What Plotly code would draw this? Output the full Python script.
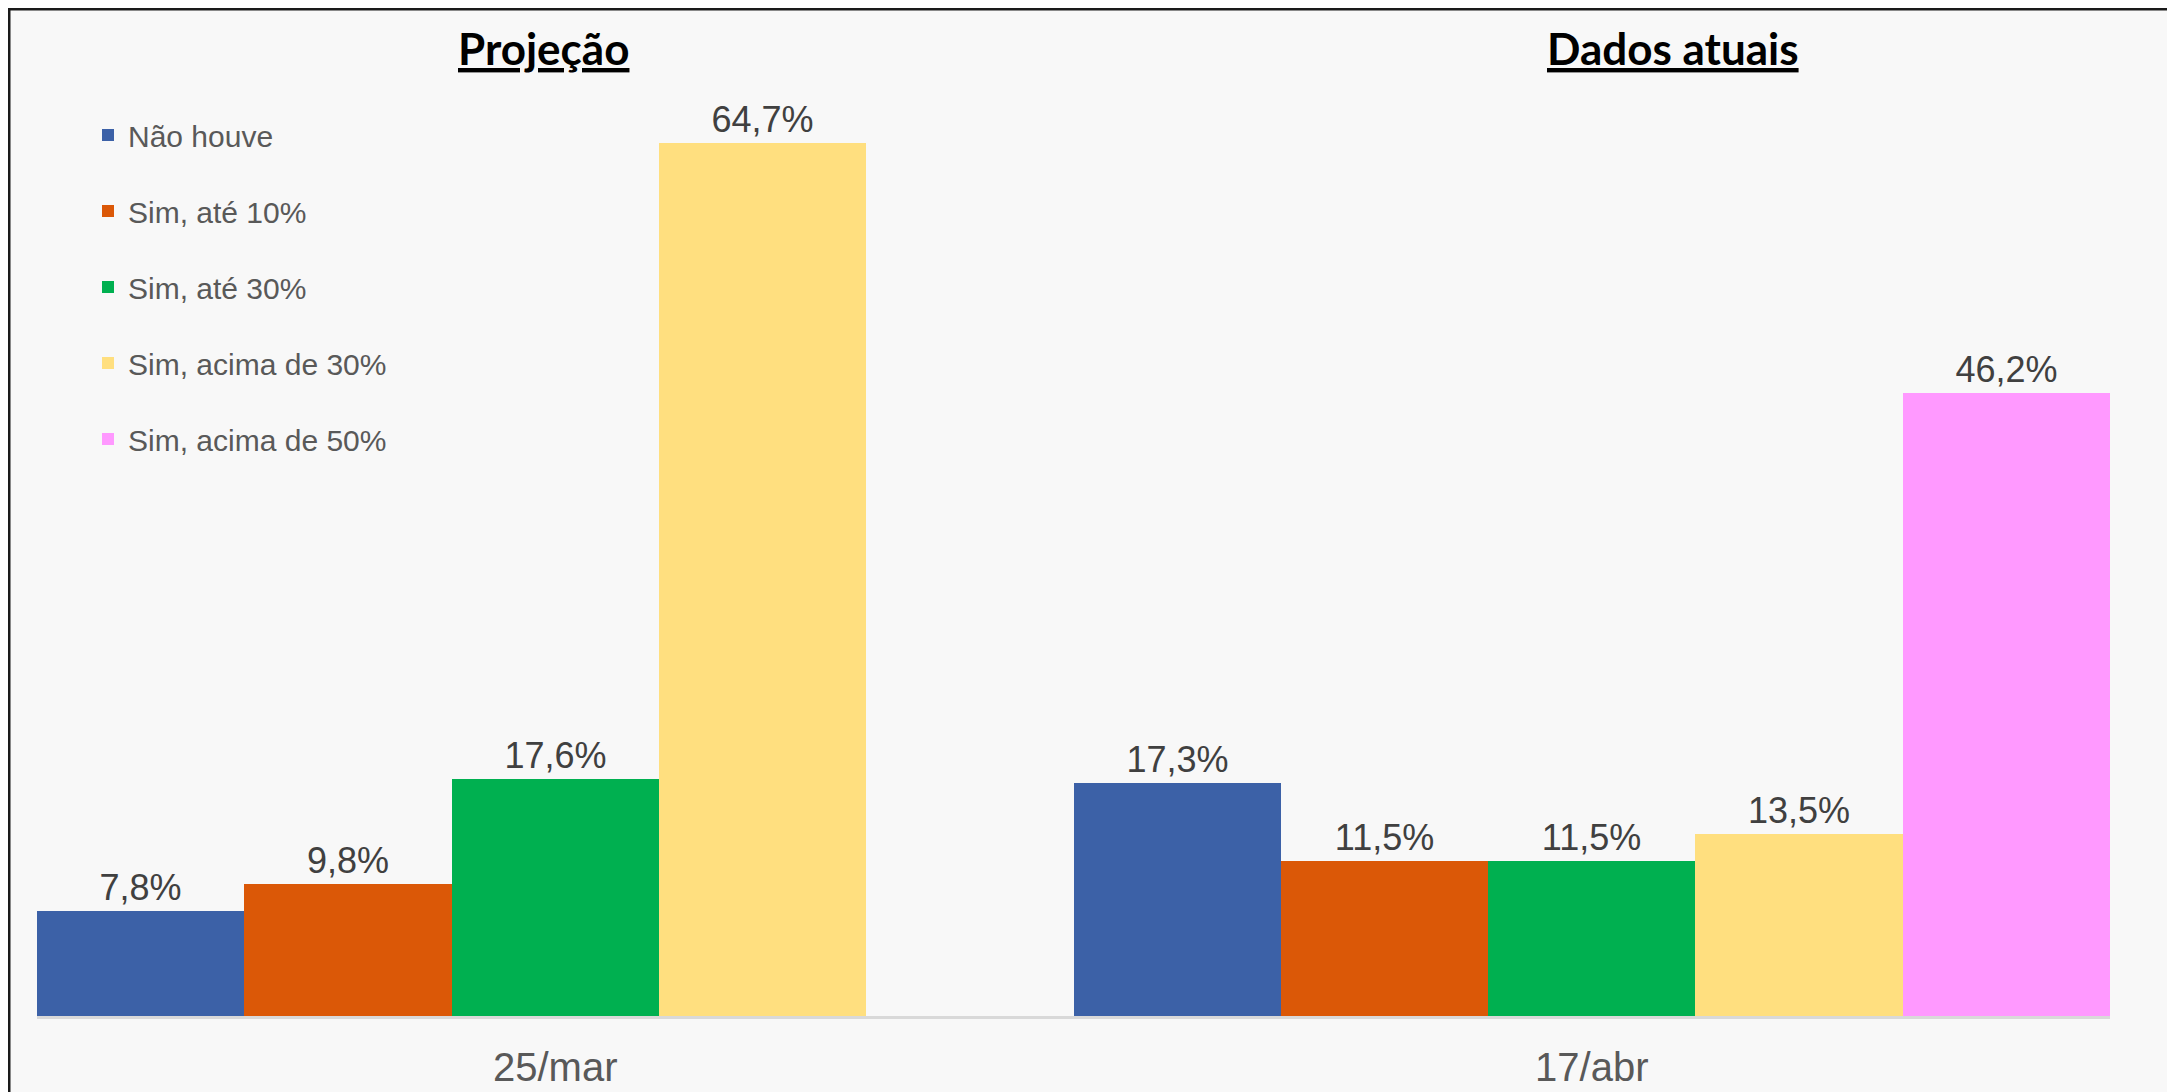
import plotly.graph_objects as go

categories = ["25/mar", "17/abr"]
series_names = ["Não houve", "Sim, até 10%", "Sim, até 30%", "Sim, acima de 30%", "Sim, acima de 50%"]
nao_houve = [7.8, 17.3]
ate_10 = [9.8, 11.5]
ate_30 = [17.6, 11.5]
acima_30 = [64.7, 13.5]
acima_50 = [None, 46.2]
section_titles = ["Projeção", "Dados atuais"]

colors = ["#3C61A7", "#DB5807", "#00B050", "#FFDF7F", "#FF99FF"]
series_values = [nao_houve, ate_10, ate_30, acima_30, acima_50]

W, H = 2167, 1084
ML, MR, MT, MB = 29, 65, 64, 76
PW = W - ML - MR
PH = H - MT - MB
YMAX = 70


def px_x(p):
    return (p - ML) / PW


def px_y(p):
    return 1 + (MT - p) / PH


fig = go.Figure()
for name, vals, col in zip(series_names, series_values, colors):
    fig.add_trace(go.Bar(
        name=name,
        x=categories,
        y=vals,
        marker=dict(color=col, line=dict(width=0)),
        texttemplate="%{y:.1f}%",
        textposition="outside",
        textfont=dict(family="Liberation Sans, Arial, sans-serif", size=36, color="#404040"),
        cliponaxis=False,
        legendgroup=name,
    ))

fig.update_layout(
    width=W, height=H, autosize=False,
    margin=dict(l=ML, r=MR, t=MT, b=MB, pad=0, autoexpand=False),
    paper_bgcolor="#F8F8F8",
    plot_bgcolor="#F8F8F8",
    barmode="group",
    bargap=0,
    bargroupgap=0,
    separators=",.",
    showlegend=True,
    legend=dict(
        xref="paper", yref="paper",
        x=px_x(80), y=px_y(101),
        xanchor="left", yanchor="top",
        font=dict(family="Liberation Sans, Arial, sans-serif", size=30, color="#595959"),
        bgcolor="rgba(0,0,0,0)",
        tracegroupgap=34,
        traceorder="grouped",
    ),
    xaxis=dict(
        showline=True, linecolor="#D9D9D9", linewidth=3,
        ticks="", showgrid=False, zeroline=False,
        tickfont=dict(family="Liberation Sans, Arial, sans-serif", size=40, color="#595959"),
        ticklabelstandoff=14,
    ),
    yaxis=dict(range=[0, YMAX], visible=False, showgrid=False, zeroline=False),
)

title_centers = [535, 1665]
for t, cx in zip(section_titles, title_centers):
    fig.add_annotation(
        text=f"<u><b>{t}</b></u>",
        xref="paper", yref="paper",
        x=px_x(cx), y=px_y(40),
        xanchor="center", yanchor="middle",
        showarrow=False,
        font=dict(family="Lato, sans-serif", size=44, color="#000000"),
    )

# frame lines (top and left)
fig.add_shape(type="line", xref="paper", yref="paper",
              x0=px_x(0), x1=px_x(W + 5), y0=px_y(1), y1=px_y(1),
              line=dict(color="#1A1A1A", width=3))
fig.add_shape(type="line", xref="paper", yref="paper",
              x0=px_x(1), x1=px_x(1), y0=px_y(0), y1=px_y(H + 5),
              line=dict(color="#1A1A1A", width=3))

fig.write_html("out.html")
